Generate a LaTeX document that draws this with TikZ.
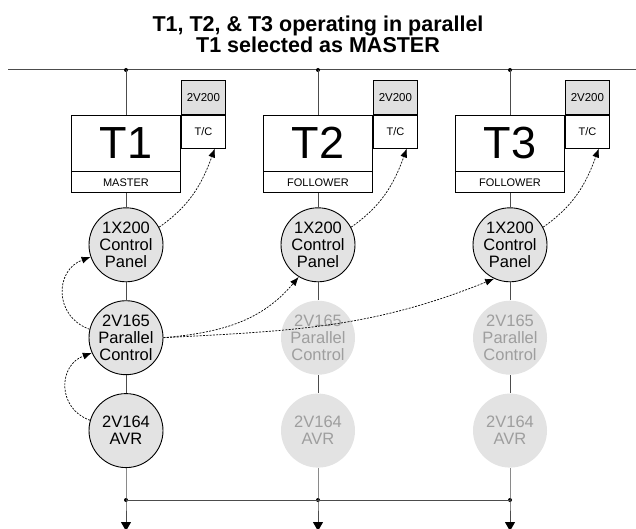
\documentclass[tikz,border=0pt]{standalone}
\usepackage{fontspec}
\setmainfont{Liberation Sans}
\usepackage{tikz}
\usetikzlibrary{arrows.meta,positioning,calc}

\begin{document}
\begin{tikzpicture}[x=1pt,y=-1pt,
  wire/.style={draw=black!70,line width=1pt},
  link/.style={dash pattern=on 2pt off 1.3pt,line width=0.7pt,-{Latex[length=9pt,width=7pt]}},
  dot/.style={circle,fill=black,inner sep=0pt,minimum size=4pt},
  tbox/.style={draw,line width=0.9pt,minimum width=109pt,minimum height=56pt,inner sep=0pt,font=\fontsize{45}{45}\selectfont},
  rolebox/.style={draw,line width=0.9pt,minimum width=109pt,minimum height=21pt,inner sep=0pt,font=\fontsize{11}{11}\selectfont},
  tcbox/.style={draw,line width=0.9pt,minimum width=44pt,minimum height=33pt,inner sep=0pt,font=\fontsize{11}{11}\selectfont},
  regbox/.style={draw,fill=black!12,line width=0.9pt,minimum width=44pt,minimum height=34pt,inner sep=0pt,font=\fontsize{11.5}{11.5}\selectfont},
  unit/.style={circle,fill=black!11,line width=0.9pt,minimum size=74pt,inner sep=0pt,align=center,font=\fontsize{16.5}{17}\selectfont}
]
\useasboundingbox (0,0) rectangle (636,529);

\node[align=center,inner sep=0pt,font=\fontsize{21.5}{19.5}\selectfont\bfseries] (head) at (318,34)
  {T1, T2, \& T3 operating in parallel\\T1 selected as MASTER};

% supply bus
\coordinate (busL) at (8,70);
\coordinate (busR) at (636,70);
\draw[wire] (busL) -- (busR);

\foreach \i/\role/\rim/\ink in {1/MASTER/black/black,2/FOLLOWER/none/black!38,3/FOLLOWER/none/black!38} {
  \pgfmathsetmacro\cx{126+192*(\i-1)}
  \node[dot] (top\i) at (\cx,70) {};
  \node[tbox] (t\i) at (\cx,143) {T\i};
  \node[rolebox,below=0pt of t\i] (r\i) {\role};
  \node[tcbox,anchor=north west] (tc\i) at (t\i.north east) {T/C};
  \node[regbox,above=0pt of tc\i] (reg\i) {2V200};
  \node[unit,draw,below=14pt of r\i] (cp\i) {1X200\\Control\\Panel};
  \node[unit,draw=\rim,text=\ink,below=18pt of cp\i] (pc\i) {2V165\\Parallel\\Control};
  \node[unit,draw=\rim,text=\ink,below=18pt of pc\i] (avr\i) {2V164\\AVR};
  \node[dot] (low\i) at (\cx,500) {};
  \coordinate (foot\i) at (\cx,531);
  \draw[wire] (top\i.center) -- (t\i.north);
  \draw[wire] (r\i.south) -- (cp\i.north);
  \draw[wire] (cp\i.south) -- (pc\i.north);
  \draw[wire] (pc\i.south) -- (avr\i.north);
  \draw[wire,-{Triangle[length=9pt,width=10pt,black]}] (avr\i.south) -- (low\i.center) -- (foot\i);
  \draw[link] (cp\i.28) to[out=35,in=-110] (tc\i.-56);
}

% load bus
\draw[wire] (low1.center) -- (low3.center);

% master links
\draw[link] (pc1.167) to[out=160,in=-160,looseness=1.35] (cp1.199);
\draw[link] (avr1.164) to[out=160,in=-160,looseness=1.35] (pc1.204);
\draw[link] (pc1.east) to[out=5,in=-130] (cp2.-121);
\draw[link] (pc1.east) to[out=3,in=-158] (cp3.-115);
\end{tikzpicture}
\end{document}
